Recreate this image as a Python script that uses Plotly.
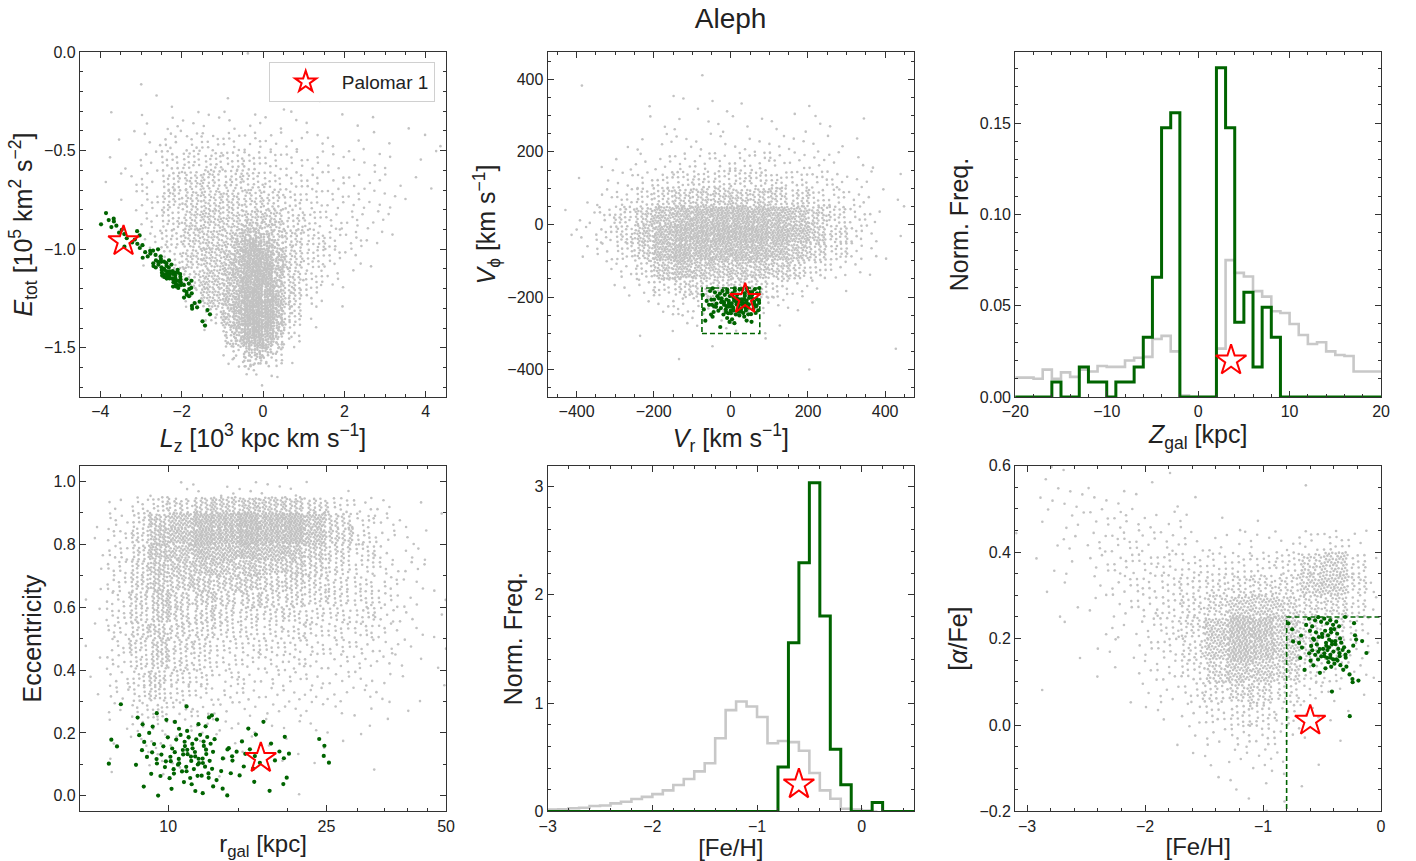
import numpy as np
import plotly.graph_objects as go

FONT = "Liberation Sans, Arial, Helvetica, sans-serif"
GRAY = "#c2c2c2"
GRAY_LINE = "#c8c8c8"
GREEN = "#006400"
RED = "#ff0000"
AX_COLOR = "#333333"
TXT = "#222222"

# ---------------- Palomar 1 (red star) ----------------
PAL1_LZ, PAL1_ETOT = -3.43, -0.96
PAL1_VR, PAL1_VPHI = 37, -205
PAL1_ZGAL, PAL1_ZGAL_Y = 3.6, 0.020
PAL1_RGAL, PAL1_ECC = 17.1, 0.12
PAL1_FEH, PAL1_FEH_Y = -0.60, 0.25
PAL1_ALPHA = 0.01

# ---------------- selection limits ----------------
VR_BOX = [-75, 75]
VPHI_BOX = [-300, -175]
FEH_CUT = -0.8
ALPHA_CUT = 0.25

# ---------------- Panel 1: Lz vs Etot (star counts per cell, rows top -> bottom) ----------------
LZ_EDGES = [-4.5, -4.0, -3.5, -3.0, -2.5, -2.0, -1.5, -1.0, -0.5, 0.0, 0.5, 1.0, 1.5, 2.0, 2.5, 3.0, 3.5, 4.0, 4.5]
ETOT_EDGES = [0.0, -0.1, -0.2, -0.3, -0.4, -0.5, -0.6, -0.7, -0.8, -0.9, -1.0, -1.1, -1.2, -1.3, -1.4, -1.5, -1.6, -1.7]
ETOT_BG_COUNTS = [
    [0, 0, 0, 0, 0, 0, 0, 0, 1, 0, 0, 0, 0, 0, 0, 0, 0, 0],
    [0, 0, 0, 1, 0, 0, 0, 0, 0, 0, 0, 0, 0, 0, 0, 0, 0, 0],
    [0, 0, 0, 1, 1, 0, 0, 1, 0, 0, 1, 1, 0, 0, 0, 0, 0, 0],
    [0, 1, 0, 2, 3, 3, 3, 3, 3, 2, 2, 1, 1, 1, 1, 0, 1, 0],
    [0, 1, 1, 3, 7, 8, 8, 8, 7, 5, 4, 3, 2, 2, 1, 1, 1, 1],
    [0, 1, 2, 4, 12, 16, 16, 14, 12, 9, 7, 5, 4, 3, 2, 2, 1, 1],
    [0, 1, 3, 6, 18, 24, 22, 20, 17, 13, 9, 7, 5, 4, 3, 2, 1, 1],
    [0, 0, 2, 8, 22, 28, 28, 26, 26, 20, 13, 9, 7, 5, 4, 2, 1, 0],
    [0, 0, 1, 6, 18, 30, 34, 34, 36, 32, 18, 12, 8, 6, 4, 1, 0, 0],
    [0, 0, 1, 6, 18, 30, 36, 34, 30, 28, 24, 16, 10, 7, 3, 1, 0, 0],
    [0, 0, 0, 2, 13, 30, 38, 40, 35, 32, 28, 16, 7, 3, 1, 0, 0, 0],
    [0, 0, 0, 0, 4, 24, 42, 44, 38, 34, 26, 14, 5, 1, 0, 0, 0, 0],
    [0, 0, 0, 0, 0, 7, 38, 45, 40, 36, 24, 7, 1, 0, 0, 0, 0, 0],
    [0, 0, 0, 0, 0, 0, 13, 40, 38, 34, 18, 2, 0, 0, 0, 0, 0, 0],
    [0, 0, 0, 0, 0, 0, 1, 24, 30, 26, 8, 0, 0, 0, 0, 0, 0, 0],
    [0, 0, 0, 0, 0, 0, 0, 4, 14, 10, 1, 0, 0, 0, 0, 0, 0, 0],
    [0, 0, 0, 0, 0, 0, 0, 0, 2, 1, 0, 0, 0, 0, 0, 0, 0, 0],
]
# extra stars of the dense Lz ~ 0 core (finer cells)
LZ_EDGES_CORE = [-1.25, -1.0, -0.75, -0.5, -0.25, 0.0, 0.25, 0.5, 0.75]
ETOT_EDGES_CORE = [-0.85, -0.90, -0.95, -1.00, -1.05, -1.10, -1.15, -1.20, -1.25, -1.30, -1.35, -1.40,
                   -1.45, -1.50, -1.55, -1.60, -1.65]
ETOT_CORE_COUNTS = [
    [0, 0, 1, 3, 4, 3, 1, 0],
    [0, 1, 4, 9, 10, 8, 3, 0],
    [0, 2, 8, 16, 18, 14, 5, 1],
    [0, 3, 10, 20, 22, 18, 7, 1],
    [0, 3, 10, 20, 24, 20, 8, 1],
    [0, 3, 10, 20, 24, 20, 8, 1],
    [0, 3, 9, 20, 24, 20, 9, 1],
    [0, 3, 10, 22, 26, 22, 10, 2],
    [0, 4, 12, 24, 28, 24, 12, 2],
    [0, 4, 12, 26, 28, 26, 12, 2],
    [0, 3, 12, 24, 28, 24, 10, 1],
    [0, 2, 10, 22, 26, 20, 8, 1],
    [0, 1, 6, 16, 20, 14, 4, 0],
    [0, 0, 3, 10, 12, 8, 2, 0],
    [0, 0, 1, 4, 5, 3, 1, 0],
    [0, 0, 0, 1, 2, 1, 0, 0],
]
LZ_EDGES_G = [-4.0, -3.75, -3.5, -3.25, -3.0, -2.75, -2.5, -2.25, -2.0, -1.75, -1.5, -1.25]
ETOT_EDGES_G = [-0.80, -0.85, -0.90, -0.95, -1.00, -1.05, -1.10, -1.15, -1.20, -1.25, -1.30, -1.35, -1.40]
ETOT_GRP_COUNTS = [
    [1, 1, 0, 0, 0, 0, 0, 0, 0, 0, 0],
    [2, 3, 0, 0, 0, 0, 0, 0, 0, 0, 0],
    [0, 1, 3, 2, 0, 0, 0, 0, 0, 0, 0],
    [0, 0, 1, 4, 1, 0, 0, 0, 0, 0, 0],
    [0, 0, 0, 0, 5, 4, 0, 0, 0, 0, 0],
    [0, 0, 0, 0, 0, 8, 8, 0, 0, 0, 0],
    [0, 0, 0, 0, 0, 0, 14, 10, 0, 0, 0],
    [0, 0, 0, 0, 0, 0, 0, 12, 5, 0, 0],
    [0, 0, 0, 0, 0, 0, 0, 0, 7, 0, 0],
    [0, 0, 0, 0, 0, 0, 0, 0, 0, 4, 0],
    [0, 0, 0, 0, 0, 0, 0, 0, 0, 1, 2],
    [0, 0, 0, 0, 0, 0, 0, 0, 0, 0, 2],
]

# ---------------- Panel 2: Vr vs Vphi ----------------
VR_EDGES = [-450, -400, -350, -300, -250, -200, -150, -100, -50, 0, 50, 100, 150, 200, 250, 300, 350, 400, 450]
VPHI_EDGES = [450, 400, 350, 300, 250, 200, 150, 100, 50, 0, -50, -100, -150, -200, -250, -300, -350, -400, -450]
VPHI_BG_COUNTS = [
    [0, 0, 0, 0, 0, 0, 0, 1, 0, 0, 0, 0, 0, 0, 0, 0, 0, 0],
    [0, 1, 0, 0, 0, 0, 1, 0, 0, 0, 0, 0, 0, 0, 0, 0, 0, 0],
    [0, 0, 0, 0, 1, 0, 1, 1, 2, 1, 0, 0, 1, 1, 0, 0, 0, 0],
    [0, 0, 0, 0, 1, 1, 2, 1, 2, 2, 1, 2, 1, 2, 1, 1, 0, 0],
    [0, 0, 0, 1, 2, 3, 3, 3, 2, 3, 3, 2, 3, 2, 2, 1, 0, 0],
    [0, 0, 1, 2, 3, 5, 6, 7, 7, 7, 7, 6, 5, 4, 3, 2, 1, 0],
    [0, 1, 2, 4, 7, 10, 13, 15, 15, 15, 15, 13, 11, 8, 6, 3, 2, 1],
    [0, 1, 4, 8, 14, 22, 28, 30, 32, 32, 30, 26, 20, 14, 9, 5, 2, 1],
    [1, 3, 8, 18, 32, 46, 56, 62, 66, 66, 62, 54, 44, 30, 18, 8, 3, 1],
    [1, 3, 9, 20, 38, 58, 70, 74, 76, 76, 72, 64, 52, 36, 20, 9, 3, 1],
    [0, 2, 5, 13, 30, 56, 68, 64, 60, 62, 60, 52, 40, 26, 14, 7, 2, 1],
    [0, 0, 2, 5, 14, 38, 50, 42, 36, 40, 40, 32, 22, 12, 6, 2, 1, 0],
    [0, 0, 1, 2, 5, 13, 22, 24, 24, 26, 20, 11, 5, 2, 1, 0, 0, 0],
    [0, 0, 0, 0, 1, 4, 7, 9, 9, 9, 7, 4, 1, 1, 0, 0, 0, 0],
    [0, 0, 0, 0, 0, 1, 2, 2, 2, 2, 1, 1, 0, 0, 0, 0, 0, 0],
    [0, 0, 0, 0, 1, 0, 0, 0, 1, 0, 1, 0, 0, 0, 0, 0, 0, 1],
    [0, 0, 0, 0, 0, 0, 1, 0, 0, 0, 0, 0, 0, 1, 0, 0, 0, 0],
    [0, 0, 0, 0, 0, 0, 0, 0, 0, 0, 0, 0, 0, 0, 0, 0, 0, 0],
]
VR_EDGES_G = [-75, -50, -25, 0, 25, 50, 75]
VPHI_EDGES_G = [-175, -200, -225, -250, -275, -300]
VPHI_GRP_COUNTS = [
    [2, 4, 5, 6, 7, 5],
    [3, 6, 8, 10, 10, 7],
    [2, 4, 6, 7, 8, 5],
    [1, 1, 2, 3, 2, 1],
    [0, 1, 0, 0, 0, 0],
]

# ---------------- Panel 3: Z_gal histograms ----------------
ZGAL_BG_EDGES = list(range(-20, 21))
ZGAL_BG_DENS = [0.0106, 0.0106, 0.0100, 0.0150, 0.0100, 0.0135, 0.0110, 0.0150, 0.0140, 0.0170,
                0.0165, 0.0165, 0.0200, 0.0215, 0.0220, 0.0318, 0.0335, 0.0250, 0.0008, 0.0,
                0.0, 0.0, 0.0265, 0.0750, 0.0680, 0.0660, 0.0580, 0.0550, 0.0470, 0.0460,
                0.0400, 0.0340, 0.0290, 0.0300, 0.0250, 0.0230, 0.0225, 0.0140, 0.0140, 0.0140]
ZGAL_GRP_EDGES = list(range(-16, 10))
ZGAL_GRP_COUNTS = [1, 0, 0, 2, 1, 1, 0, 1, 1, 2, 4, 8, 18, 19, 0, 0, 0, 0, 22, 18, 5, 7, 2, 6, 4]

# ---------------- Panel 4: r_gal vs eccentricity ----------------
RGAL_EDGES = [6, 7, 8, 9, 10, 11.5, 13, 15, 17, 19.5, 22, 25, 29, 33, 38, 44, 50]
ECC_EDGES = [1.0, 0.95, 0.90, 0.85, 0.80, 0.75, 0.70, 0.65, 0.60, 0.55, 0.50, 0.45, 0.40, 0.35,
             0.30, 0.25, 0.20, 0.15, 0.10, 0.05, 0.0]
ECC_BG_COUNTS = [
    [0, 0, 0, 1, 2, 2, 3, 3, 3, 2, 1, 1, 0, 0, 0, 0],
    [0, 3, 8, 14, 22, 30, 36, 38, 36, 30, 22, 12, 6, 3, 1, 0],
    [1, 6, 14, 30, 50, 62, 72, 78, 76, 66, 48, 26, 10, 5, 2, 1],
    [1, 8, 18, 38, 54, 66, 74, 78, 74, 64, 48, 30, 12, 6, 2, 1],
    [1, 9, 20, 36, 45, 52, 56, 56, 52, 44, 34, 22, 12, 6, 3, 1],
    [1, 9, 20, 33, 38, 40, 42, 40, 36, 32, 24, 18, 11, 7, 3, 1],
    [1, 9, 20, 30, 32, 32, 32, 30, 27, 24, 20, 16, 12, 7, 3, 1],
    [1, 9, 20, 28, 28, 27, 25, 22, 21, 20, 17, 16, 13, 8, 3, 1],
    [1, 9, 19, 26, 25, 22, 20, 17, 16, 15, 14, 14, 12, 7, 3, 1],
    [1, 9, 18, 25, 22, 18, 15, 13, 12, 11, 11, 11, 10, 6, 2, 1],
    [1, 8, 17, 24, 20, 16, 12, 11, 10, 9, 9, 9, 7, 5, 2, 1],
    [1, 7, 15, 22, 18, 13, 10, 8, 7, 7, 6, 6, 5, 4, 2, 1],
    [1, 6, 13, 20, 16, 11, 7, 6, 6, 5, 5, 5, 4, 2, 1, 1],
    [1, 5, 11, 16, 12, 8, 6, 5, 4, 4, 4, 4, 3, 2, 1, 0],
    [0, 3, 8, 11, 8, 6, 4, 4, 3, 3, 3, 2, 2, 1, 1, 0],
    [0, 2, 5, 6, 5, 4, 3, 2, 2, 2, 2, 1, 1, 1, 0, 0],
    [0, 1, 3, 4, 3, 2, 2, 1, 1, 1, 1, 1, 1, 0, 0, 0],
    [0, 1, 1, 2, 2, 1, 1, 1, 1, 1, 1, 0, 0, 0, 0, 0],
    [0, 1, 1, 1, 1, 0, 1, 0, 0, 0, 0, 0, 1, 0, 0, 0],
    [0, 0, 0, 0, 0, 0, 0, 0, 0, 1, 0, 0, 0, 0, 0, 0],
]
RGAL_EDGES_G = [7, 8, 9, 10, 11, 12, 13, 14.5, 16, 18, 20, 23, 26]
ECC_EDGES_G = [0.30, 0.25, 0.20, 0.15, 0.10, 0.05, 0.0]
ECC_GRP_COUNTS = [
    [1, 0, 1, 0, 1, 1, 0, 0, 0, 0, 0, 0],
    [0, 2, 2, 2, 2, 2, 1, 1, 1, 0, 0, 0],
    [2, 3, 3, 4, 5, 5, 2, 1, 1, 2, 0, 2],
    [1, 2, 5, 7, 8, 6, 3, 3, 3, 3, 1, 2],
    [0, 1, 3, 5, 6, 5, 3, 2, 1, 1, 0, 0],
    [0, 1, 1, 2, 2, 2, 2, 0, 2, 1, 0, 0],
]

# ---------------- Panel 5: [Fe/H] histograms ----------------
FEH_BG_EDGES = [round(v, 1) for v in np.linspace(-3.0, 0.1, 32)]
FEH_BG_DENS = [0.018, 0.020, 0.030, 0.035, 0.050, 0.055, 0.075, 0.090, 0.115, 0.135,
               0.160, 0.195, 0.245, 0.300, 0.370, 0.445, 0.675, 0.935, 1.015, 0.968,
               0.872, 0.630, 0.650, 0.640, 0.560, 0.355, 0.195, 0.118, 0.025, 0.018, 0.008]
FEH_GRP_EDGES = [-0.8, -0.7, -0.6, -0.5, -0.4, -0.3, -0.2, -0.1, 0.0, 0.1, 0.2]
FEH_GRP_COUNTS = [5, 19, 28, 37, 22, 7, 3, 0, 0, 1]

# ---------------- Panel 6: [Fe/H] vs [alpha/Fe] ----------------
FEH_EDGES = [-3.1, -2.9, -2.7, -2.5, -2.3, -2.1, -1.9, -1.7, -1.5, -1.3, -1.1, -0.9, -0.7, -0.5, -0.3, -0.1, 0.0]
ALPHA_EDGES = [0.60, 0.55, 0.50, 0.45, 0.40, 0.35, 0.30, 0.25, 0.20, 0.15, 0.10, 0.05, 0.0, -0.05, -0.10, -0.15, -0.20]
ALPHA_BG_COUNTS = [
    [0, 2, 1, 0, 0, 1, 1, 0, 0, 0, 0, 0, 1, 0, 0, 0],
    [0, 3, 4, 3, 2, 1, 1, 1, 0, 0, 0, 0, 0, 0, 0, 0],
    [0, 2, 4, 5, 6, 5, 3, 2, 1, 1, 1, 0, 0, 0, 0, 0],
    [1, 1, 3, 6, 8, 7, 6, 5, 4, 3, 3, 4, 8, 10, 5, 0],
    [1, 1, 2, 5, 8, 9, 10, 11, 11, 11, 12, 16, 34, 44, 18, 1],
    [0, 1, 1, 3, 7, 10, 12, 15, 20, 25, 25, 26, 44, 52, 24, 2],
    [0, 1, 1, 2, 5, 8, 12, 20, 33, 48, 48, 38, 30, 32, 17, 2],
    [0, 0, 1, 1, 3, 6, 12, 25, 56, 88, 82, 52, 30, 22, 10, 1],
    [0, 0, 1, 1, 2, 5, 10, 22, 52, 85, 75, 50, 28, 17, 7, 1],
    [0, 0, 0, 1, 1, 4, 7, 15, 35, 56, 52, 35, 17, 10, 4, 1],
    [0, 1, 0, 0, 1, 2, 5, 10, 20, 32, 30, 18, 9, 4, 1, 0],
    [0, 0, 0, 0, 0, 1, 2, 5, 11, 17, 16, 10, 4, 1, 1, 0],
    [0, 0, 0, 0, 0, 0, 1, 2, 5, 9, 9, 5, 2, 1, 0, 0],
    [0, 0, 0, 0, 0, 0, 0, 1, 2, 5, 5, 2, 1, 0, 0, 0],
    [0, 0, 0, 0, 0, 0, 0, 0, 1, 2, 2, 1, 1, 0, 0, 0],
    [0, 0, 0, 0, 0, 0, 0, 0, 0, 1, 1, 1, 0, 0, 0, 0],
]
FEH_EDGES_G = [-0.8, -0.7, -0.6, -0.5, -0.4, -0.3, -0.2, -0.1]
ALPHA_EDGES_G = [0.25, 0.225, 0.20, 0.175, 0.15, 0.125, 0.10, 0.05, 0.0]
ALPHA_GRP_COUNTS = [
    [1, 2, 4, 4, 3, 1, 0],
    [1, 2, 4, 5, 3, 1, 0],
    [1, 2, 4, 7, 5, 2, 1],
    [0, 2, 5, 8, 5, 2, 1],
    [0, 1, 2, 3, 4, 1, 0],
    [0, 0, 1, 0, 0, 2, 1],
    [0, 0, 0, 1, 0, 1, 0],
    [0, 0, 0, 0, 0, 1, 0],
]


def spread(x_edges, y_edges, counts, logx=False, start=0):
    """Lay each cell's star count out evenly inside that cell (R2 low-discrepancy layout)."""
    a1, a2 = 0.7548776662466927, 0.5698402909980532
    xs, ys = [], []
    k = start
    for r, row in enumerate(counts):
        y0, y1 = y_edges[r], y_edges[r + 1]
        for c, n in enumerate(row):
            x0, x1 = x_edges[c], x_edges[c + 1]
            if logx:
                x0, x1 = np.log10(x0), np.log10(x1)
            for _ in range(n):
                k += 1
                u = (0.5 + k * a1) % 1.0
                v = (0.5 + k * a2) % 1.0
                xv = x0 + u * (x1 - x0)
                xs.append(10 ** xv if logx else xv)
                ys.append(y0 + v * (y1 - y0))
    return xs, ys


def step(edges, vals, lo=None, hi=None):
    xs = list(edges)
    ys = list(vals) + [vals[-1]]
    if lo is not None:
        xs = [lo, edges[0]] + xs
        ys = [0, 0] + ys
    if hi is not None:
        xs = xs + [edges[-1], hi]
        ys = ys + [0, 0]
    return xs, ys


fig = go.Figure()


def add(tr, i):
    s = "" if i == 1 else str(i)
    tr.update(xaxis="x" + s, yaxis="y" + s)
    fig.add_trace(tr)


def bg(x, y):
    return go.Scatter(x=x, y=y, mode="markers", marker=dict(size=2.6, color=GRAY),
                      showlegend=False, hoverinfo="skip")


def grp(x, y):
    return go.Scatter(x=x, y=y, mode="markers", marker=dict(size=4.2, color=GREEN),
                      showlegend=False, hoverinfo="skip")


def star(x, y, show=False):
    return go.Scatter(x=[x], y=[y], mode="markers", name="Palomar 1", showlegend=show,
                      marker=dict(symbol="star-open", size=23, color=RED, line=dict(width=2, color=RED)))


# Panel 1
b1x, b1y = spread(LZ_EDGES, ETOT_EDGES, ETOT_BG_COUNTS, start=0)
c1x, c1y = spread(LZ_EDGES_CORE, ETOT_EDGES_CORE, ETOT_CORE_COUNTS, start=5003)
add(bg(b1x + c1x, b1y + c1y), 1)
add(grp(*spread(LZ_EDGES_G, ETOT_EDGES_G, ETOT_GRP_COUNTS, start=11)), 1)
add(star(PAL1_LZ, PAL1_ETOT, True), 1)

# Panel 2
add(bg(*spread(VR_EDGES, VPHI_EDGES, VPHI_BG_COUNTS, start=3)), 2)
add(grp(*spread(VR_EDGES_G, VPHI_EDGES_G, VPHI_GRP_COUNTS, start=17)), 2)
add(go.Scatter(x=[VR_BOX[0], VR_BOX[1], VR_BOX[1], VR_BOX[0], VR_BOX[0]],
               y=[VPHI_BOX[0], VPHI_BOX[0], VPHI_BOX[1], VPHI_BOX[1], VPHI_BOX[0]],
               mode="lines", line=dict(color=GREEN, width=1.6, dash="5px,3px"),
               showlegend=False, hoverinfo="skip"), 2)
add(star(PAL1_VR, PAL1_VPHI), 2)

# Panel 3
zx, zy = step(ZGAL_BG_EDGES, ZGAL_BG_DENS)
add(go.Scatter(x=zx, y=zy, mode="lines", line=dict(color=GRAY_LINE, width=2.6, shape="hv"),
               showlegend=False, hoverinfo="skip"), 3)
nz = sum(ZGAL_GRP_COUNTS)
zg = [c / (nz * 1.0) for c in ZGAL_GRP_COUNTS]
gx, gy = step(ZGAL_GRP_EDGES, zg, lo=-25, hi=25)
add(go.Scatter(x=gx, y=gy, mode="lines", line=dict(color=GREEN, width=3, shape="hv"),
               showlegend=False, hoverinfo="skip"), 3)
add(star(PAL1_ZGAL, PAL1_ZGAL_Y), 3)

# Panel 4
add(bg(*spread(RGAL_EDGES, ECC_EDGES, ECC_BG_COUNTS, logx=True, start=5)), 4)
add(grp(*spread(RGAL_EDGES_G, ECC_EDGES_G, ECC_GRP_COUNTS, logx=True, start=23)), 4)
add(star(PAL1_RGAL, PAL1_ECC), 4)

# Panel 5
fx, fy = step(FEH_BG_EDGES, FEH_BG_DENS, hi=0.15)
add(go.Scatter(x=fx, y=fy, mode="lines", line=dict(color=GRAY_LINE, width=2.6, shape="hv"),
               showlegend=False, hoverinfo="skip"), 5)
nf = sum(FEH_GRP_COUNTS)
fg = [c / (nf * 0.1) for c in FEH_GRP_COUNTS]
gx, gy = step(FEH_GRP_EDGES, fg, lo=-3.5, hi=1.0)
add(go.Scatter(x=gx, y=gy, mode="lines", line=dict(color=GREEN, width=3, shape="hv"),
               showlegend=False, hoverinfo="skip"), 5)
add(star(PAL1_FEH, PAL1_FEH_Y), 5)

# Panel 6
add(bg(*spread(FEH_EDGES, ALPHA_EDGES, ALPHA_BG_COUNTS, start=7)), 6)
add(grp(*spread(FEH_EDGES_G, ALPHA_EDGES_G, ALPHA_GRP_COUNTS, start=29)), 6)
add(go.Scatter(x=[FEH_CUT, FEH_CUT, 0.05], y=[-0.25, ALPHA_CUT, ALPHA_CUT], mode="lines",
               line=dict(color=GREEN, width=1.6, dash="5px,3px"), showlegend=False, hoverinfo="skip"), 6)
add(star(PAL1_FEH, PAL1_ALPHA), 6)

# ---------------- axes ----------------
XD = [[0.0565, 0.3150], [0.3868, 0.6455], [0.7170, 0.9753]]
YD = [[0.5389, 0.9396], [0.0575, 0.4591]]


def axis(domain, anchor, rng, title, minor, tsize=25, **kw):
    d = dict(domain=domain, anchor=anchor, range=rng, automargin=False,
             showline=True, linecolor=AX_COLOR, linewidth=1.2,
             mirror="allticks", ticks="inside", ticklen=6, tickwidth=1.2, tickcolor=AX_COLOR,
             showgrid=False, zeroline=False, tickfont=dict(size=16, color=TXT, family=FONT),
             title=dict(text=title, font=dict(size=tsize, color=TXT, family=FONT), standoff=4),
             minor=dict(ticks="inside", ticklen=3, tickwidth=1, tickcolor=AX_COLOR, showgrid=False, **minor))
    d.update(kw)
    return d


layout = dict(
    width=1416, height=861, margin=dict(l=0, r=0, t=0, b=0, autoexpand=False),
    paper_bgcolor="white", plot_bgcolor="white",
    font=dict(family=FONT, color=TXT),
    title=dict(text="Aleph", x=0.516, xanchor="center", y=0.979, yanchor="middle",
               font=dict(size=28, family=FONT, color=TXT)),
    legend=dict(x=0.307, xanchor="right", y=0.928, yanchor="top", bgcolor="white", itemwidth=62,
                bordercolor="#d0d0d0", borderwidth=1, font=dict(size=19, family=FONT, color=TXT)),
    showlegend=True,
)

layout["xaxis"] = axis(XD[0], "y", [-4.5, 4.5], "<i>L</i><sub>z</sub> [10<sup>3</sup> kpc km s<sup>−1</sup>]",
                       dict(dtick=0.5), tickvals=[-4, -2, 0, 2, 4])
layout["yaxis"] = axis(YD[0], "x", [-1.75, 0.0], "<i>E</i><sub>tot</sub> [10<sup>5</sup> km<sup>2</sup> s<sup>−2</sup>]",
                       dict(dtick=0.1), tickvals=[-1.5, -1.0, -0.5, 0.0], tickformat=".1f")
layout["xaxis2"] = axis(XD[1], "y2", [-475, 475], "<i>V</i><sub>r</sub> [km s<sup>−1</sup>]",
                        dict(dtick=50), tickvals=[-400, -200, 0, 200, 400])
layout["yaxis2"] = axis(YD[0], "x2", [-475, 475], "<i>V</i><sub>ϕ</sub> [km s<sup>−1</sup>]",
                        dict(dtick=50), tickvals=[-400, -200, 0, 200, 400])
layout["xaxis3"] = axis(XD[2], "y3", [-20, 20], "<i>Z</i><sub>gal</sub> [kpc]",
                        dict(dtick=2), tickvals=[-20, -10, 0, 10, 20])
layout["yaxis3"] = axis(YD[0], "x3", [0, 0.189], "Norm. Freq.",
                        dict(dtick=0.01), tickvals=[0, 0.05, 0.10, 0.15], tickformat=".2f")
layout["xaxis4"] = axis(XD[0], "y4", [np.log10(6), np.log10(50)], "r<sub>gal</sub> [kpc]",
                        dict(tickmode="array", tickvals=[15, 20, 30, 35, 40, 45]), tsize=24,
                        type="log", tickmode="array", tickvals=[10, 25, 50], ticktext=["10", "25", "50"])
layout["yaxis4"] = axis(YD[1], "x4", [-0.05, 1.05], "Eccentricity",
                        dict(dtick=0.1), tickvals=[0, 0.2, 0.4, 0.6, 0.8, 1.0], tickformat=".1f")
layout["xaxis5"] = axis(XD[1], "y5", [-3, 0.5], "[Fe/H]",
                        dict(dtick=0.2), tsize=24, tickvals=[-3, -2, -1, 0])
layout["yaxis5"] = axis(YD[1], "x5", [0, 3.19], "Norm. Freq.",
                        dict(dtick=0.2), tickvals=[0, 1, 2, 3])
layout["xaxis6"] = axis(XD[2], "y6", [-3.1, 0], "[Fe/H]",
                        dict(dtick=0.2), tsize=24, tickvals=[-3, -2, -1, 0])
layout["yaxis6"] = axis(YD[1], "x6", [-0.2, 0.6], "[<i>α</i>/Fe]",
                        dict(dtick=0.05), tickvals=[-0.2, 0.0, 0.2, 0.4, 0.6], tickformat=".1f")

fig.update_layout(**layout)
fig.write_html("out.html")
